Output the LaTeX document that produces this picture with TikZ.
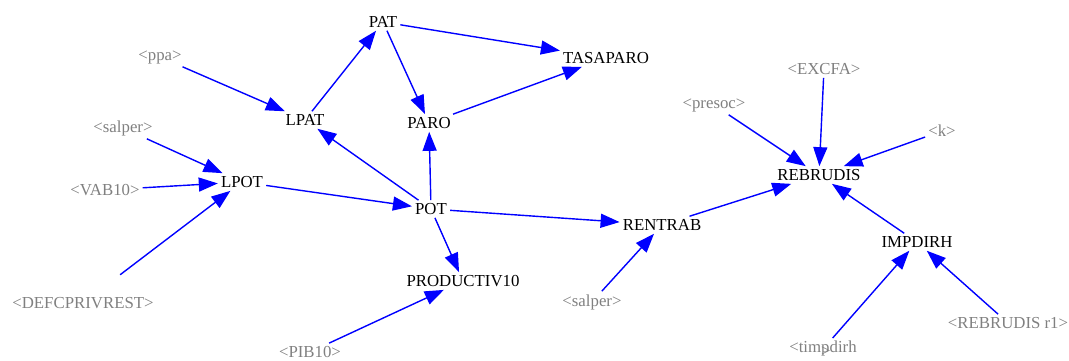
\documentclass[tikz,border=0pt]{standalone}
\usepackage{fontspec}
\setmainfont{Liberation Serif}
\usetikzlibrary{arrows.meta}
\definecolor{edgeblue}{RGB}{0,0,255}
\definecolor{extgray}{RGB}{128,128,128}
\tikzset{
  var/.style={inner sep=3pt, font=\fontsize{16.8}{20}\selectfont, text=black},
  ext/.style={inner sep=3pt, font=\fontsize{16.8}{20}\selectfont, text=extgray},
  edge/.style={draw=edgeblue, line width=1.4pt, -{Triangle[length=19pt,width=14pt]}},
}
\begin{document}
\begin{tikzpicture}[x=1pt,y=-1pt]
\useasboundingbox (0,0) rectangle (1069,360);
% variables
\node[var] (PAT) at (383,22) {PAT};
\node[var] (TASAPARO) at (606,58) {TASAPARO};
\node[var] (PARO) at (429,123) {PARO};
\node[var] (LPAT) at (305,120) {LPAT};
\node[var] (LPOT) at (242,182) {LPOT};
\node[var] (POT) at (431,209) {POT};
\node[var] (PRODUCTIV10) at (463,281) {PRODUCTIV10};
\node[var] (RENTRAB) at (662,225) {RENTRAB};
\node[var] (REBRUDIS) at (819,175) {REBRUDIS};
\node[var] (IMPDIRH) at (917,242) {IMPDIRH};
% shadow variables
\node[ext] (ppa) at (160,57) {<ppa>};
\node[ext] (salperA) at (123,128) {<salper>};
\node[ext] (VAB10) at (105,190) {<VAB10>};
\node[ext] (DEFCPRIVREST) at (83,303) {<DEFCPRIVREST>};
\node[ext] (PIB10) at (310,352) {<PIB10>};
\node[ext] (salperB) at (592,302) {<salper>};
\node[ext] (presoc) at (714,105) {<presoc>};
\node[ext] (EXCFA) at (824,69) {<EXCFA>};
\node[ext] (k) at (942,131) {<k>};
\node[ext] (timpdirh) at (823,349) {<tim\rlap{\raisebox{-4pt}{>}}pdirh};
\node[ext] (REBRUDISr1) at (1008,323) {<REBRUDIS r1>};
% edges
\draw[edge] (ppa) -- (LPAT);
\draw[edge] (LPAT) -- (PAT);
\draw[edge] (PAT) -- (TASAPARO);
\draw[edge] (PAT) -- (PARO);
\draw[edge] (PARO) -- (TASAPARO);
\draw[edge] (POT) -- (LPAT);
\draw[edge] (POT) -- (PARO);
\draw[edge] (LPOT) -- (POT);
\draw[edge] (POT) -- (RENTRAB);
\draw[edge] (POT) -- (PRODUCTIV10);
\draw[edge] (salperA) -- (LPOT);
\draw[edge] (VAB10) -- (LPOT);
\draw[edge, shorten <=32pt] (DEFCPRIVREST) -- (LPOT);
\draw[edge] (PIB10) -- (PRODUCTIV10);
\draw[edge] (salperB) -- (RENTRAB);
\draw[edge] (RENTRAB) -- (REBRUDIS);
\draw[edge] (presoc) -- (REBRUDIS);
\draw[edge] (EXCFA) -- (REBRUDIS);
\draw[edge] (k) -- (REBRUDIS);
\draw[edge] (IMPDIRH) -- (REBRUDIS);
\draw[edge] (timpdirh) -- (IMPDIRH);
\draw[edge] (REBRUDISr1) -- (IMPDIRH);
\end{tikzpicture}
\end{document}
